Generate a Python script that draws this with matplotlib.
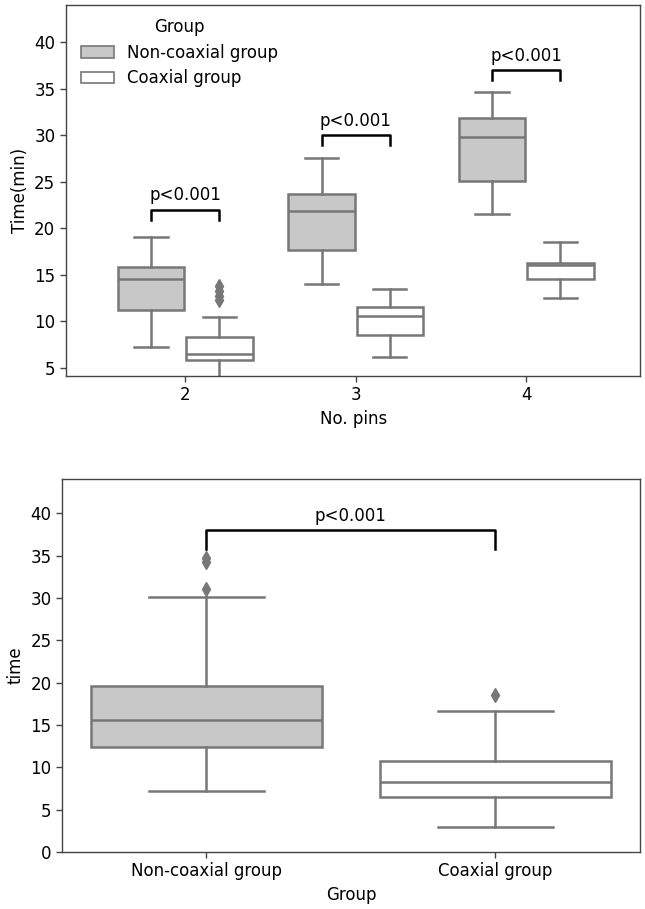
import matplotlib
matplotlib.use("Agg")
import matplotlib.pyplot as plt
from matplotlib.patches import Patch

plt.rcParams['font.family'] = ['DejaVu Sans']
plt.rcParams['font.size'] = 12

# top panel: time by number of pins and group
pins = ['2', '3', '4']
groups = ['Non-coaxial group', 'Coaxial group']
face_colors = ['#c8c8c8', 'white']
line_color = '#777777'

# box statistics: [whislo, q1, median, q3, whishi]
noncoax_stats = [
    [7.2, 11.2, 14.5, 15.8, 19.0],
    [14.0, 17.6, 21.9, 23.65, 27.5],
    [21.5, 25.1, 29.85, 31.8, 34.6],
]
coax_stats = [
    [3.0, 5.8, 6.5, 8.3, 10.4],
    [6.1, 8.5, 10.55, 11.5, 13.5],
    [12.5, 14.5, 16.0, 16.3, 18.5],
]
noncoax_fliers = [[], [], []]
coax_fliers = [[13.8, 13.2, 12.7, 12.3], [], []]
pin_bracket_y = [22.0, 30.0, 37.0]

# bottom panel: overall time by group
overall_stats = [
    [7.2, 12.4, 15.6, 19.55, 30.1],
    [3.0, 6.45, 8.3, 10.7, 16.65],
]
overall_fliers = [[34.7, 34.2, 31.0], [18.5]]
overall_bracket_y = 38.0


def make_stats(rows, fliers):
    out = []
    for r, f in zip(rows, fliers):
        out.append({'whislo': r[0], 'q1': r[1], 'med': r[2], 'q3': r[3],
                    'whishi': r[4], 'fliers': f})
    return out


def draw_boxes(ax, stats, positions, width, face):
    ax.bxp(stats, positions=positions, widths=width, patch_artist=True,
           showfliers=True, manage_ticks=False,
           boxprops=dict(facecolor=face, edgecolor=line_color, linewidth=1.8),
           medianprops=dict(color=line_color, linewidth=1.8),
           whiskerprops=dict(color=line_color, linewidth=1.8),
           capprops=dict(color=line_color, linewidth=1.8),
           capwidths=width / 2,
           flierprops=dict(marker='d', markerfacecolor=line_color,
                           markeredgecolor=line_color, markersize=7))


def bracket(ax, x1, x2, y, drop=1.1):
    ax.plot([x1, x1, x2, x2], [y - drop, y, y, y - drop], color='black', lw=1.8)
    ax.text((x1 + x2) / 2, y + 0.55, 'p<0.001', ha='center', va='bottom', fontsize=12)


fig = plt.figure(figsize=(6.45, 9.09), dpi=100)
ax1 = fig.add_axes([0.102, 0.5864, 0.891, 0.408])
ax2 = fig.add_axes([0.096, 0.0627, 0.896, 0.410])

idx = list(range(len(pins)))
draw_boxes(ax1, make_stats(noncoax_stats, noncoax_fliers), [i - 0.2 for i in idx], 0.39, face_colors[0])
draw_boxes(ax1, make_stats(coax_stats, coax_fliers), [i + 0.2 for i in idx], 0.39, face_colors[1])
for i, y in zip(idx, pin_bracket_y):
    bracket(ax1, i - 0.2, i + 0.2, y)
ax1.set_xlim(-0.7, 2.67)
ax1.set_ylim(4.1, 44)
ax1.set_xticks(idx)
ax1.set_xticklabels(pins)
ax1.set_yticks([5, 10, 15, 20, 25, 30, 35, 40])
ax1.set_xlabel('No. pins')
ax1.set_ylabel('Time(min)')
handles = [Patch(facecolor=c, edgecolor=line_color, linewidth=1.2) for c in face_colors]
ax1.legend(handles, groups, title='Group', loc='upper left', frameon=False,
           fontsize=12, title_fontsize=12, handlelength=2.0, labelspacing=0.45,
           bbox_to_anchor=(0.0, 1.005))

gidx = list(range(len(groups)))
draw_boxes(ax2, make_stats(overall_stats[:1], overall_fliers[:1]), [0], 0.8, face_colors[0])
draw_boxes(ax2, make_stats(overall_stats[1:], overall_fliers[1:]), [1], 0.8, face_colors[1])
bracket(ax2, 0, 1, overall_bracket_y, drop=2.2)
ax2.set_xlim(-0.5, 1.5)
ax2.set_ylim(0, 44)
ax2.set_xticks(gidx)
ax2.set_xticklabels(groups)
ax2.set_yticks([0, 5, 10, 15, 20, 25, 30, 35, 40])
ax2.set_xlabel('Group')
ax2.set_ylabel('time')

for ax in (ax1, ax2):
    for s in ax.spines.values():
        s.set_color('#444444')
        s.set_linewidth(1.0)
    ax.tick_params(color='#444444', width=1.0, length=4)

fig.savefig('out.png', dpi=100)
